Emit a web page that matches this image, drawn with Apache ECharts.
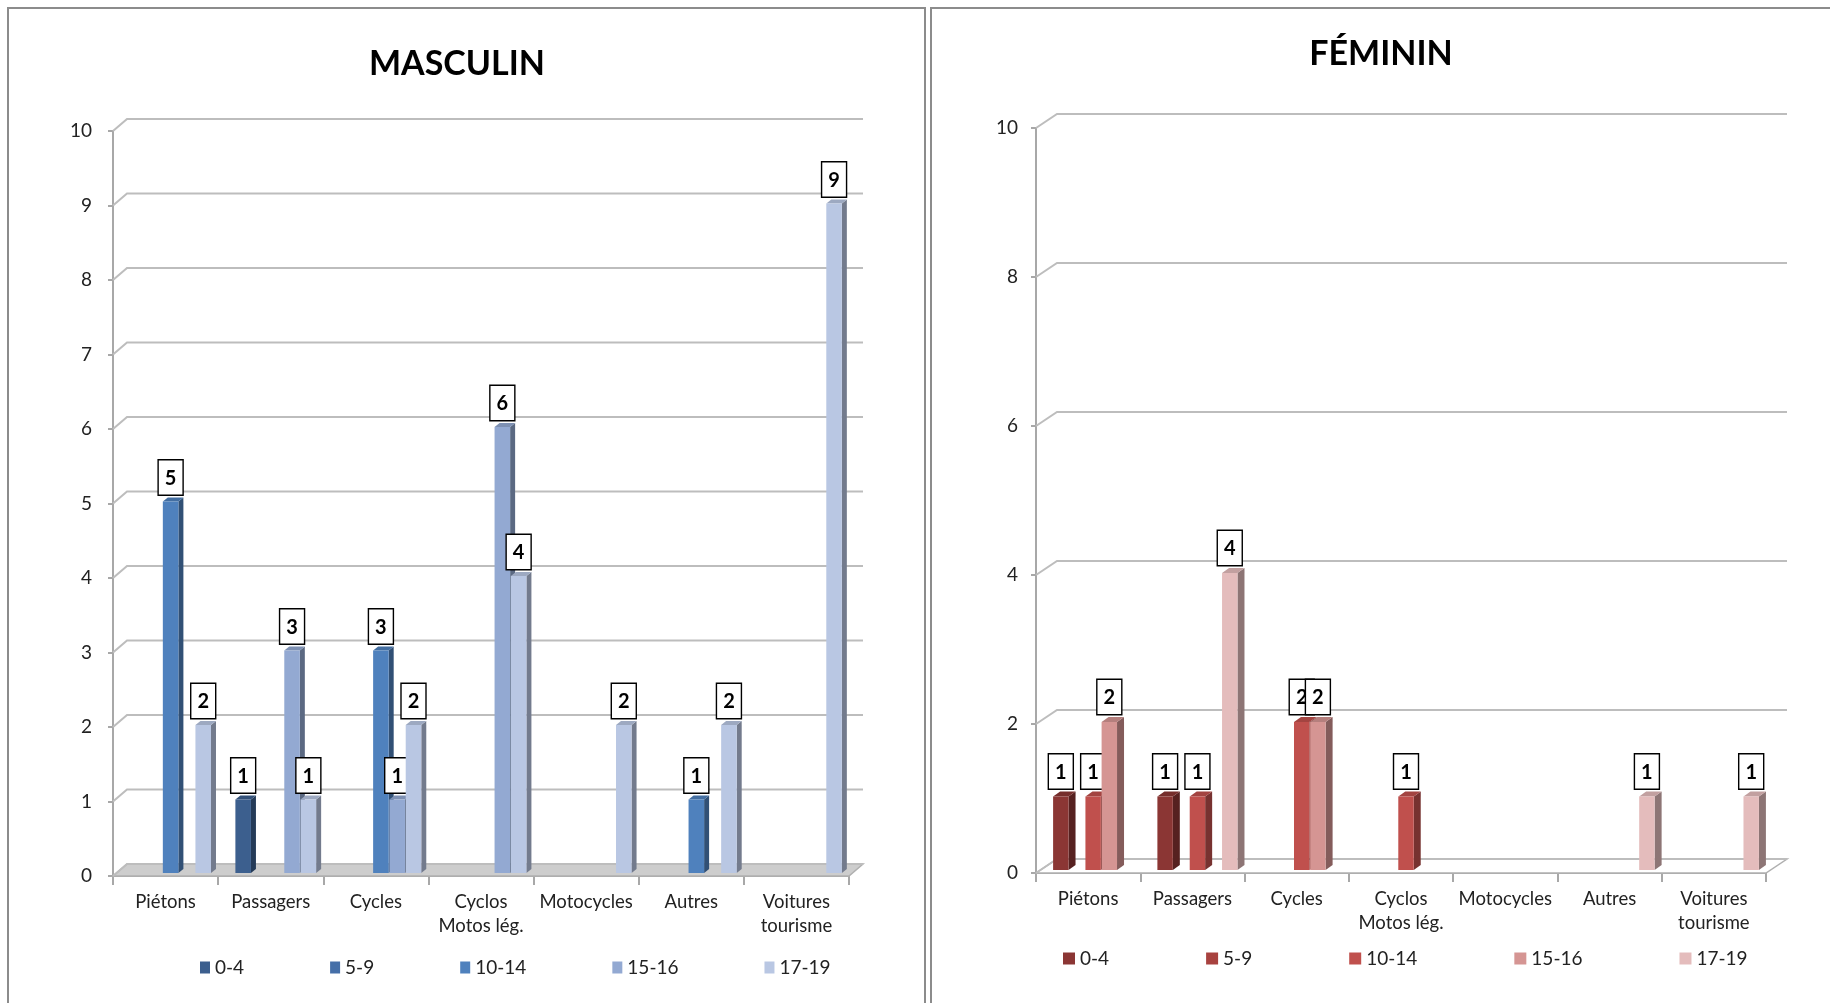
<!DOCTYPE html>
<html><head><meta charset="utf-8">
<script src="https://cdn.jsdelivr.net/npm/echarts@6/dist/echarts.min.js"></script>
<style>html,body{margin:0;padding:0;background:#fff;}#c{width:1830px;height:1003px;}</style>
</head><body><div id="c"></div>
<script>
// ---------- data ----------
const categories = ['Piétons', 'Passagers', 'Cycles', 'Cyclos\nMotos lég.', 'Motocycles', 'Autres', 'Voitures\ntourisme'];
const ageGroups = ['0-4', '5-9', '10-14', '15-16', '17-19'];

const masc_0_4   = [null, 1, null, null, null, null, null];
const masc_5_9   = [null, null, null, null, null, null, null];
const masc_10_14 = [5, null, 3, null, null, 1, null];
const masc_15_16 = [null, 3, 1, 6, null, null, null];
const masc_17_19 = [2, 1, 2, 4, 2, 2, 9];

const fem_0_4   = [1, 1, null, null, null, null, null];
const fem_5_9   = [null, null, null, null, null, null, null];
const fem_10_14 = [1, 1, 2, 1, null, null, null];
const fem_15_16 = [2, null, 2, null, null, null, null];
const fem_17_19 = [null, 4, null, null, null, 1, 1];

const mascTicks = [0, 1, 2, 3, 4, 5, 6, 7, 8, 9, 10];
const femTicks = [0, 2, 4, 6, 8, 10];

const mascTitle = 'MASCULIN';
const femTitle = 'FÉMININ';

// ---------- styles ----------
const mascColors = ['#3c5f8e', '#456fa8', '#4f81bd', '#93a9d2', '#b9c7e3'];
const femColors = ['#8b3634', '#a8423f', '#c0504d', '#d59593', '#e4bcbc'];
const mascDepth = [14, -12];
const femDepth = [21, -14];
const mascBarDepth = [5, -4];
const femBarDepth = [7, -5];
const FONT = 'Lato, "Open Sans", sans-serif';

function shade(hex, f) {
  const n = parseInt(hex.slice(1), 16);
  let r = (n >> 16) & 255, g = (n >> 8) & 255, b = n & 255;
  if (f < 1) { r = r * f; g = g * f; b = b * f; }
  else { const t = f - 1; r = r + (255 - r) * t; g = g + (255 - g) * t; b = b + (255 - b) * t; }
  return 'rgb(' + Math.round(r) + ',' + Math.round(g) + ',' + Math.round(b) + ')';
}

function barRenderer(slot, color, depth) {
  return function (params, api) {
    const v = api.value(1);
    if (v === null || v === undefined || isNaN(v)) return;
    const base = api.coord([api.value(0), 0]);
    const top = api.coord([api.value(0), v]);
    const bw = api.size([1, 0])[0];
    const sp = bw * 0.155;
    const w = bw * 0.148;
    const xc = base[0] + (slot - 2) * sp + bw * 0.048;
    const xl = xc - w / 2, xr = xc + w / 2;
    const yb = base[1] - 3, yt = top[1] - 2;
    const dx = depth[0], dy = depth[1];
    return {
      type: 'group',
      children: [
        { type: 'polygon', shape: { points: [[xr, yb], [xr + dx, yb + dy], [xr + dx, yt + dy], [xr, yt]] },
          style: { fill: shade(color, 0.62) } },
        { type: 'polygon', shape: { points: [[xl, yt], [xr, yt], [xr + dx, yt + dy], [xl + dx, yt + dy]] },
          style: { fill: shade(color, 0.85) } },
        { type: 'rect', shape: { x: xl, y: yt, width: w, height: yb - yt },
          style: { fill: color } },
        { type: 'text', x: xc, y: yt + dy - 3,
          style: { text: String(v), align: 'center', verticalAlign: 'bottom', fill: '#000',
            font: 'bold 20px ' + FONT, backgroundColor: '#fff', borderColor: '#000', borderWidth: 1.4,
            padding: [8, 6, 6, 6] } }
      ]
    };
  };
}

function wallRenderer(depth) {
  return function (params, api) {
    const cs = params.coordSys;
    const y = api.coord([0, api.value(1)])[1];
    const x0 = cs.x, x1 = cs.x + cs.width;
    return { type: 'polyline', silent: true,
      shape: { points: [[x0, y], [x0 + depth[0], y + depth[1]], [x1 + depth[0], y + depth[1]]] },
      style: { stroke: '#bdbdbd', lineWidth: 2, fill: null } };
  };
}

function floorRenderer(depth, fill) {
  return function (params, api) {
    const cs = params.coordSys;
    const y = cs.y + cs.height;
    const x0 = cs.x, x1 = cs.x + cs.width;
    return { type: 'polygon', silent: true,
      shape: { points: [[x0, y], [x1, y], [x1 + depth[0], y + depth[1]], [x0 + depth[0], y + depth[1]]] },
      style: { fill: fill, stroke: '#b0b0b0', lineWidth: 1.5 } };
  };
}

const mascSeriesData = [masc_0_4, masc_5_9, masc_10_14, masc_15_16, masc_17_19];
const femSeriesData = [fem_0_4, fem_5_9, fem_10_14, fem_15_16, fem_17_19];

const series = [];
series.push({ type: 'custom', xAxisIndex: 0, yAxisIndex: 0, z: 1, silent: true, clip: false,
  renderItem: floorRenderer(mascDepth, '#cdcdcd'), data: [[0, 0]] });
series.push({ type: 'custom', xAxisIndex: 0, yAxisIndex: 0, z: 1, silent: true, clip: false,
  renderItem: wallRenderer(mascDepth), data: mascTicks.map(t => [0, t]) });
series.push({ type: 'custom', xAxisIndex: 1, yAxisIndex: 1, z: 1, silent: true, clip: false,
  renderItem: floorRenderer(femDepth, '#ffffff'), data: [[0, 0]] });
series.push({ type: 'custom', xAxisIndex: 1, yAxisIndex: 1, z: 1, silent: true, clip: false,
  renderItem: wallRenderer(femDepth), data: femTicks.map(t => [0, t]) });

ageGroups.forEach((g, s) => {
  series.push({ type: 'custom', name: g, xAxisIndex: 0, yAxisIndex: 0, z: 3, clip: false,
    itemStyle: { color: mascColors[s] },
    renderItem: barRenderer(s, mascColors[s], mascBarDepth),
    data: mascSeriesData[s].map((v, i) => [i, v]) });
});
ageGroups.forEach((g, s) => {
  series.push({ type: 'custom', name: 'F:' + g, xAxisIndex: 1, yAxisIndex: 1, z: 3, clip: false,
    itemStyle: { color: femColors[s] },
    renderItem: barRenderer(s, femColors[s], femBarDepth),
    data: femSeriesData[s].map((v, i) => [i, v]) });
});

const axisLineStyle = { color: '#a8a8a8', width: 2 };
function xAxis(gridIndex) {
  return { type: 'category', gridIndex, data: categories,
    axisLine: { show: true, lineStyle: axisLineStyle },
    axisTick: { show: true, length: 9, lineStyle: axisLineStyle },
    axisLabel: { interval: 0, margin: 14, fontSize: 18.5, lineHeight: 24, color: '#222', fontFamily: FONT },
    splitLine: { show: false } };
}
function yAxis(gridIndex, interval, margin) {
  return { type: 'value', gridIndex, min: 0, max: 10, interval,
    axisLine: { show: true, lineStyle: axisLineStyle },
    axisTick: { show: true, length: 5, lineStyle: axisLineStyle },
    axisLabel: { margin, fontSize: 19, color: '#222', fontFamily: FONT },
    splitLine: { show: false } };
}

const option = {
  backgroundColor: '#fff',
  animation: false,
  graphic: [
    { type: 'rect', shape: { x: 8, y: 8, width: 917, height: 1010 }, style: { fill: null, stroke: '#8c8c8c', lineWidth: 2 }, z: 0 },
    { type: 'rect', shape: { x: 931, y: 8, width: 920, height: 1010 }, style: { fill: null, stroke: '#8c8c8c', lineWidth: 2 }, z: 0 },
    { type: 'text', x: 457, y: 64, style: { text: mascTitle, align: 'center', verticalAlign: 'middle', font: 'bold 34px ' + FONT, fill: '#000' } },
    { type: 'text', x: 1381, y: 54, style: { text: femTitle, align: 'center', verticalAlign: 'middle', font: 'bold 34px ' + FONT, fill: '#000' } }
  ],
  grid: [
    { left: 113, top: 131, width: 736, height: 745, outerBoundsMode: 'none', containLabel: false },
    { left: 1036, top: 128, width: 730, height: 745, outerBoundsMode: 'none', containLabel: false }
  ],
  xAxis: [xAxis(0), xAxis(1)],
  yAxis: [yAxis(0, 1, 21), yAxis(1, 2, 18)],
  legend: [
    { data: ageGroups, left: 195, top: 953, orient: 'horizontal', icon: 'rect', itemWidth: 10, itemHeight: 12,
      itemGap: 86, selectedMode: false, textStyle: { fontSize: 19, color: '#222', fontFamily: FONT } },
    { data: ageGroups.map(g => 'F:' + g), left: 1058, top: 944, orient: 'horizontal', icon: 'rect', itemWidth: 12, itemHeight: 12,
      itemGap: 97, selectedMode: false, formatter: n => n.slice(2), textStyle: { fontSize: 19, color: '#222', fontFamily: FONT } }
  ],
  series
};

const chart = echarts.init(document.getElementById('c'), null, { renderer: 'canvas' });
chart.setOption(option);
</script>
</body></html>
